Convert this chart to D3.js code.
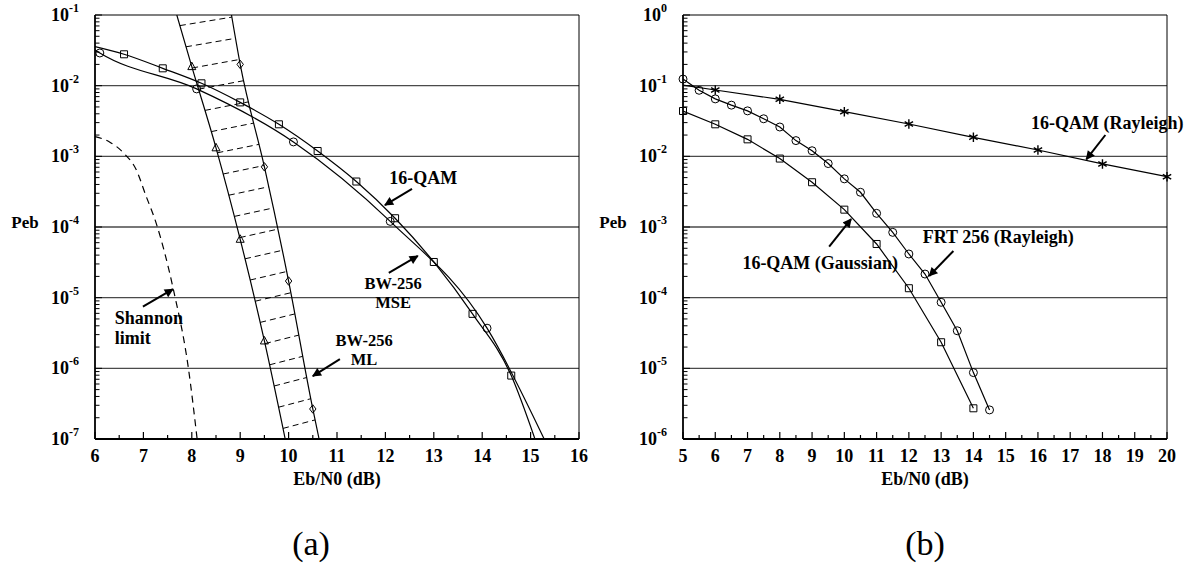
<!DOCTYPE html>
<html>
<head>
<meta charset="utf-8">
<script src="https://cdn.jsdelivr.net/npm/d3@7"></script>
<style>
body { margin: 0; background: #fff; }
text { font-family: "Liberation Serif", "Times New Roman", serif; font-weight: bold; fill: #000; }
</style>
</head>
<body>
<svg id="chart" width="1188" height="566"></svg>
<script>
// ---------- panel (a) : AWGN ----------
// 16-QAM, circles (every 2 dB)
var circX = [6.1, 8.1, 10.1, 12.1, 14.1];
var circY = [0.029, 0.009, 0.0016, 1.2e-4, 3.7e-6];
var circEnds = [[6.0, 0.032], [15.28, 1e-7]];
// BW-256 MSE, squares
var sqX = [6.6, 7.4, 8.2, 9.0, 9.8, 10.6, 11.4, 12.2, 13.0, 13.8, 14.6];
var sqY = [0.0278, 0.0176, 0.0108, 0.0058, 0.00284, 0.00119, 4.4e-4, 1.33e-4, 3.2e-5, 5.9e-6, 7.9e-7];
var sqEnds = [[6.0, 0.0357], [15.09, 1e-7]];
// BW-256 ML band : left edge (triangles), right edge (diamonds)
var triX = [8.0, 8.5, 9.0, 9.5];
var triY = [0.0186, 1.32e-3, 6.7e-5, 2.44e-6];
var triEnds = [[7.69, 0.1], [9.93, 1e-7]];
var diaX = [9.0, 9.5, 10.0, 10.5];
var diaY = [0.02, 7.1e-4, 1.72e-5, 2.66e-7];
var diaEnds = [[8.82, 0.1], [10.63, 1e-7]];
// hatch positions inside the ML band (log10 Peb of left end)
var hatchLogs = [-1.15, -1.45, -1.75, -2.05, -2.35, -2.65, -2.95, -3.25, -3.55, -3.85,
                 -4.15, -4.45, -4.75, -5.05, -5.35, -5.65, -5.95, -6.25, -6.55, -6.85];
// Shannon limit (dashed)
var shanX = [6.0, 6.3, 6.6, 6.85, 7.05, 7.27, 7.62, 7.93, 8.11];
var shanY = [1.9e-3, 1.6e-3, 1.1e-3, 6.5e-4, 2.8e-4, 1.1e-4, 1.3e-5, 1e-6, 1e-7];

// ---------- panel (b) : Rayleigh ----------
var frtX = [5, 5.5, 6, 6.5, 7, 7.5, 8, 8.5, 9, 9.5, 10, 10.5, 11, 11.5, 12, 12.5, 13, 13.5, 14, 14.5];
var frtY = [0.124, 0.086, 0.065, 0.053, 0.044, 0.034, 0.026, 0.0167, 0.012, 0.0079, 0.0048, 0.0031,
            0.00156, 8.4e-4, 4.15e-4, 2.16e-4, 8.6e-5, 3.4e-5, 8.7e-6, 2.58e-6];
var gaussX = [5, 6, 7, 8, 9, 10, 11, 12, 13, 14];
var gaussY = [0.0438, 0.0284, 0.0174, 0.0093, 0.0043, 0.00176, 5.75e-4, 1.36e-4, 2.34e-5, 2.72e-6];
var rayX = [5, 6, 8, 10, 12, 14, 16, 18, 20];
var rayY = [0.102, 0.0869, 0.0641, 0.0428, 0.0287, 0.0186, 0.0123, 0.0078, 0.00515];

var xTicksA = [6, 7, 8, 9, 10, 11, 12, 13, 14, 15, 16];
var xTicksB = [5, 6, 7, 8, 9, 10, 11, 12, 13, 14, 15, 16, 17, 18, 19, 20];

var svg = d3.select("#chart");
var top_ = 15, bottom = 439;

var defs = svg.append("defs");
defs.append("marker")
  .attr("id", "arrow")
  .attr("viewBox", "0 0 10 10")
  .attr("refX", 9).attr("refY", 5)
  .attr("markerUnits", "userSpaceOnUse")
  .attr("markerWidth", 11).attr("markerHeight", 9)
  .attr("orient", "auto")
  .append("path").attr("d", "M0,0 L10,5 L0,10 Z").attr("fill", "#000");

function zip(xs, ys) { return xs.map((v, i) => ({x: v, y: ys[i]})); }
function withEnds(pts, ends) {
  return [{x: ends[0][0], y: ends[0][1]}].concat(pts).concat([{x: ends[1][0], y: ends[1][1]}]);
}

function makePanel(id, left, right, xDom, yDom, xTicks) {
  var x = d3.scaleLinear().domain(xDom).range([left, right]);
  var y = d3.scaleLog().domain(yDom).range([bottom, top_]);
  var g = svg.append("g");

  defs.append("clipPath").attr("id", "clip" + id)
    .append("rect").attr("x", left).attr("y", top_).attr("width", right - left).attr("height", bottom - top_);

  // horizontal grid at each decade
  var decades = y.ticks().filter(v => Math.abs(Math.log10(v) - Math.round(Math.log10(v))) < 1e-9);
  g.selectAll(".grid").data(decades.filter(v => v > yDom[0] && v < yDom[1])).enter()
    .append("line")
    .attr("x1", left).attr("x2", right)
    .attr("y1", d => y(d)).attr("y2", d => y(d))
    .attr("stroke", "#4a4a4a").attr("stroke-width", 1.3);

  // minor log ticks on the left axis (inside)
  g.selectAll(".ytick").data(y.ticks()).enter()
    .append("line")
    .attr("x1", left).attr("x2", d => left + (decades.indexOf(d) >= 0 ? 7 : 4.5))
    .attr("y1", d => y(d)).attr("y2", d => y(d))
    .attr("stroke", "#000").attr("stroke-width", 1);

  // y tick labels 10^n
  var yl = g.selectAll(".ylab").data(decades).enter()
    .append("text")
    .attr("x", left - 16).attr("y", d => y(d) + 6)
    .attr("text-anchor", "end")
    .style("font-size", "18px");
  yl.append("tspan").text("10");
  yl.append("tspan").attr("dy", -9).style("font-size", "12px")
    .text(d => String(Math.round(Math.log10(d))));

  // x ticks: major at integers, minor at halves
  var minor = xTicks.slice(0, -1).map(v => v + 0.5);
  g.selectAll(".xminor").data(minor).enter()
    .append("line")
    .attr("x1", d => x(d)).attr("x2", d => x(d))
    .attr("y1", bottom).attr("y2", bottom - 4)
    .attr("stroke", "#000").attr("stroke-width", 1.2);
  g.selectAll(".xmajor").data(xTicks).enter()
    .append("line")
    .attr("x1", d => x(d)).attr("x2", d => x(d))
    .attr("y1", bottom).attr("y2", bottom - 7)
    .attr("stroke", "#000").attr("stroke-width", 1.2);
  g.selectAll(".xlab").data(xTicks).enter()
    .append("text")
    .attr("x", d => x(d)).attr("y", 462)
    .attr("text-anchor", "middle")
    .style("font-size", "18px")
    .text(d => d);

  // frame
  g.append("line").attr("x1", left).attr("x2", right).attr("y1", top_).attr("y2", top_)
    .attr("stroke", "#000").attr("stroke-width", 1.2);
  g.append("line").attr("x1", right).attr("x2", right).attr("y1", top_).attr("y2", bottom)
    .attr("stroke", "#000").attr("stroke-width", 1);
  g.append("line").attr("x1", left).attr("x2", right).attr("y1", bottom).attr("y2", bottom)
    .attr("stroke", "#000").attr("stroke-width", 1.8);
  g.append("line").attr("x1", left).attr("x2", left).attr("y1", top_).attr("y2", bottom)
    .attr("stroke", "#000").attr("stroke-width", 1.8);

  // axis titles
  g.append("text")
    .attr("x", (left + right) / 2).attr("y", 485)
    .attr("text-anchor", "middle")
    .style("font-size", "18px")
    .text("Eb/N0 (dB)");
  g.append("text")
    .attr("x", left - 70).attr("y", 228)
    .attr("text-anchor", "middle")
    .style("font-size", "17px")
    .text("Peb");

  var plot = g.append("g").attr("clip-path", "url(#clip" + id + ")");
  return {g: g, plot: plot, x: x, y: y};
}

function drawLine(p, pts, curve, dash) {
  var line = d3.line().x(d => p.x(d.x)).y(d => p.y(d.y)).curve(curve);
  return p.plot.append("path")
    .datum(pts)
    .attr("d", line)
    .attr("fill", "none")
    .attr("stroke", "#000")
    .attr("stroke-width", 1.2)
    .attr("stroke-dasharray", dash || null);
}

var shapes = {
  circle: "M4,0 A4,4 0 1,1 -4,0 A4,4 0 1,1 4,0 Z",
  square: "M-3.5,-3.5 L3.5,-3.5 L3.5,3.5 L-3.5,3.5 Z",
  triangle: "M0,-4.5 L4,3 L-4,3 Z",
  diamond: "M0,-4.2 L3.2,0 L0,4.2 L-3.2,0 Z",
  star: "M0,-4.8 L0,4.8 M-4.2,-2.4 L4.2,2.4 M-4.2,2.4 L4.2,-2.4"
};

function drawMarks(p, pts, shape) {
  p.g.selectAll(null).data(pts).enter()
    .append("path")
    .attr("transform", d => `translate(${p.x(d.x)},${p.y(d.y)})`)
    .attr("d", shapes[shape])
    .attr("fill", "none")
    .attr("stroke", "#000")
    .attr("stroke-width", shape === "star" ? 1.4 : 1);
}

// one text element per line so each line keeps its own box
function label(p, lines, xv, yv, anchor, gap, size) {
  lines.forEach((s, i) => {
    p.g.append("text")
      .attr("x", p.x(xv)).attr("y", p.y(yv) + i * gap)
      .attr("text-anchor", anchor)
      .style("font-size", (size || 18) + "px")
      .text(s);
  });
}

function arrow(p, x0, y0, x1, y1) {
  p.g.append("line")
    .attr("x1", p.x(x0)).attr("y1", p.y(y0))
    .attr("x2", p.x(x1)).attr("y2", p.y(y1))
    .attr("stroke", "#000").attr("stroke-width", 2)
    .attr("marker-end", "url(#arrow)");
}

// ================= panel (a) =================
var pa = makePanel("a", 95, 579, [6, 16], [1e-7, 1e-1], xTicksA);

var circPts = zip(circX, circY), sqPts = zip(sqX, sqY);
var triPts = zip(triX, triY), diaPts = zip(diaX, diaY);

drawLine(pa, withEnds(circPts, circEnds), d3.curveMonotoneX);
drawLine(pa, withEnds(sqPts, sqEnds), d3.curveMonotoneX);
var triPath = drawLine(pa, withEnds(triPts, triEnds), d3.curveMonotoneX).node();
var diaPath = drawLine(pa, withEnds(diaPts, diaEnds), d3.curveMonotoneX).node();
drawLine(pa, zip(shanX, shanY), d3.curveMonotoneX, "7,5");

// x position of a drawn curve at a given pixel height
function xAtY(node) {
  var len = node.getTotalLength(), pts = [];
  for (var l = 0; l <= len; l += 0.5) pts.push(node.getPointAtLength(l));
  return function(py) {
    var best = pts[0];
    pts.forEach(q => { if (Math.abs(q.y - py) < Math.abs(best.y - py)) best = q; });
    return best.x;
  };
}
var leftEdge = xAtY(triPath), rightEdge = xAtY(diaPath);
pa.plot.selectAll(".hatch").data(hatchLogs).enter()
  .append("line")
  .attr("x1", d => leftEdge(pa.y(Math.pow(10, d))))
  .attr("y1", d => pa.y(Math.pow(10, d)))
  .attr("x2", d => rightEdge(pa.y(Math.pow(10, d + 0.12))))
  .attr("y2", d => pa.y(Math.pow(10, d + 0.12)))
  .attr("stroke", "#000").attr("stroke-width", 1)
  .attr("stroke-dasharray", "6,4");

drawMarks(pa, circPts, "circle");
drawMarks(pa, sqPts, "square");
drawMarks(pa, triPts, "triangle");
drawMarks(pa, diaPts, "diamond");

label(pa, ["16-QAM"], 12.78, Math.pow(10, -3.39), "middle", 0);
arrow(pa, 12.55, Math.pow(10, -3.46), 11.99, Math.pow(10, -3.69));
label(pa, ["BW-256", "MSE"], 12.16, Math.pow(10, -4.88), "middle", 19, 16.5);
arrow(pa, 12.07, Math.pow(10, -4.65), 12.67, Math.pow(10, -4.41));
label(pa, ["BW-256", "ML"], 11.56, Math.pow(10, -5.68), "middle", 19, 16.5);
arrow(pa, 11.06, Math.pow(10, -5.87), 10.5, Math.pow(10, -6.11));
label(pa, ["Shannon", "limit"], 6.41, Math.pow(10, -5.373), "start", 19.5);
arrow(pa, 6.99, Math.pow(10, -5.128), 7.61, Math.pow(10, -4.88));

// ================= panel (b) =================
var pb = makePanel("b", 683, 1167, [5, 20], [1e-6, 1], xTicksB);

var frtPts = zip(frtX, frtY), gaussPts = zip(gaussX, gaussY), rayPts = zip(rayX, rayY);
drawLine(pb, frtPts, d3.curveLinear);
drawLine(pb, gaussPts, d3.curveLinear);
drawLine(pb, rayPts, d3.curveLinear);
drawMarks(pb, frtPts, "circle");
drawMarks(pb, gaussPts, "square");
drawMarks(pb, rayPts.slice(1), "star");

label(pb, ["16-QAM (Rayleigh)"], 18.15, Math.pow(10, -1.609), "middle", 0);
arrow(pb, 18.09, Math.pow(10, -1.698), 17.5, Math.pow(10, -2.042));
label(pb, ["FRT 256 (Rayleigh)"], 14.77, Math.pow(10, -3.226), "middle", 0);
arrow(pb, 13.38, Math.pow(10, -3.339), 12.63, Math.pow(10, -3.693));
label(pb, ["16-QAM (Gaussian)"], 9.25, Math.pow(10, -3.594), "middle", 0);
arrow(pb, 9.53, Math.pow(10, -3.279), 10.21, Math.pow(10, -2.887));

// sub-figure captions
svg.append("text").attr("x", 311).attr("y", 555).attr("text-anchor", "middle")
  .style("font-size", "34px").style("font-weight", "normal").text("(a)");
svg.append("text").attr("x", 925).attr("y", 555).attr("text-anchor", "middle")
  .style("font-size", "34px").style("font-weight", "normal").text("(b)");
</script>
</body>
</html>
